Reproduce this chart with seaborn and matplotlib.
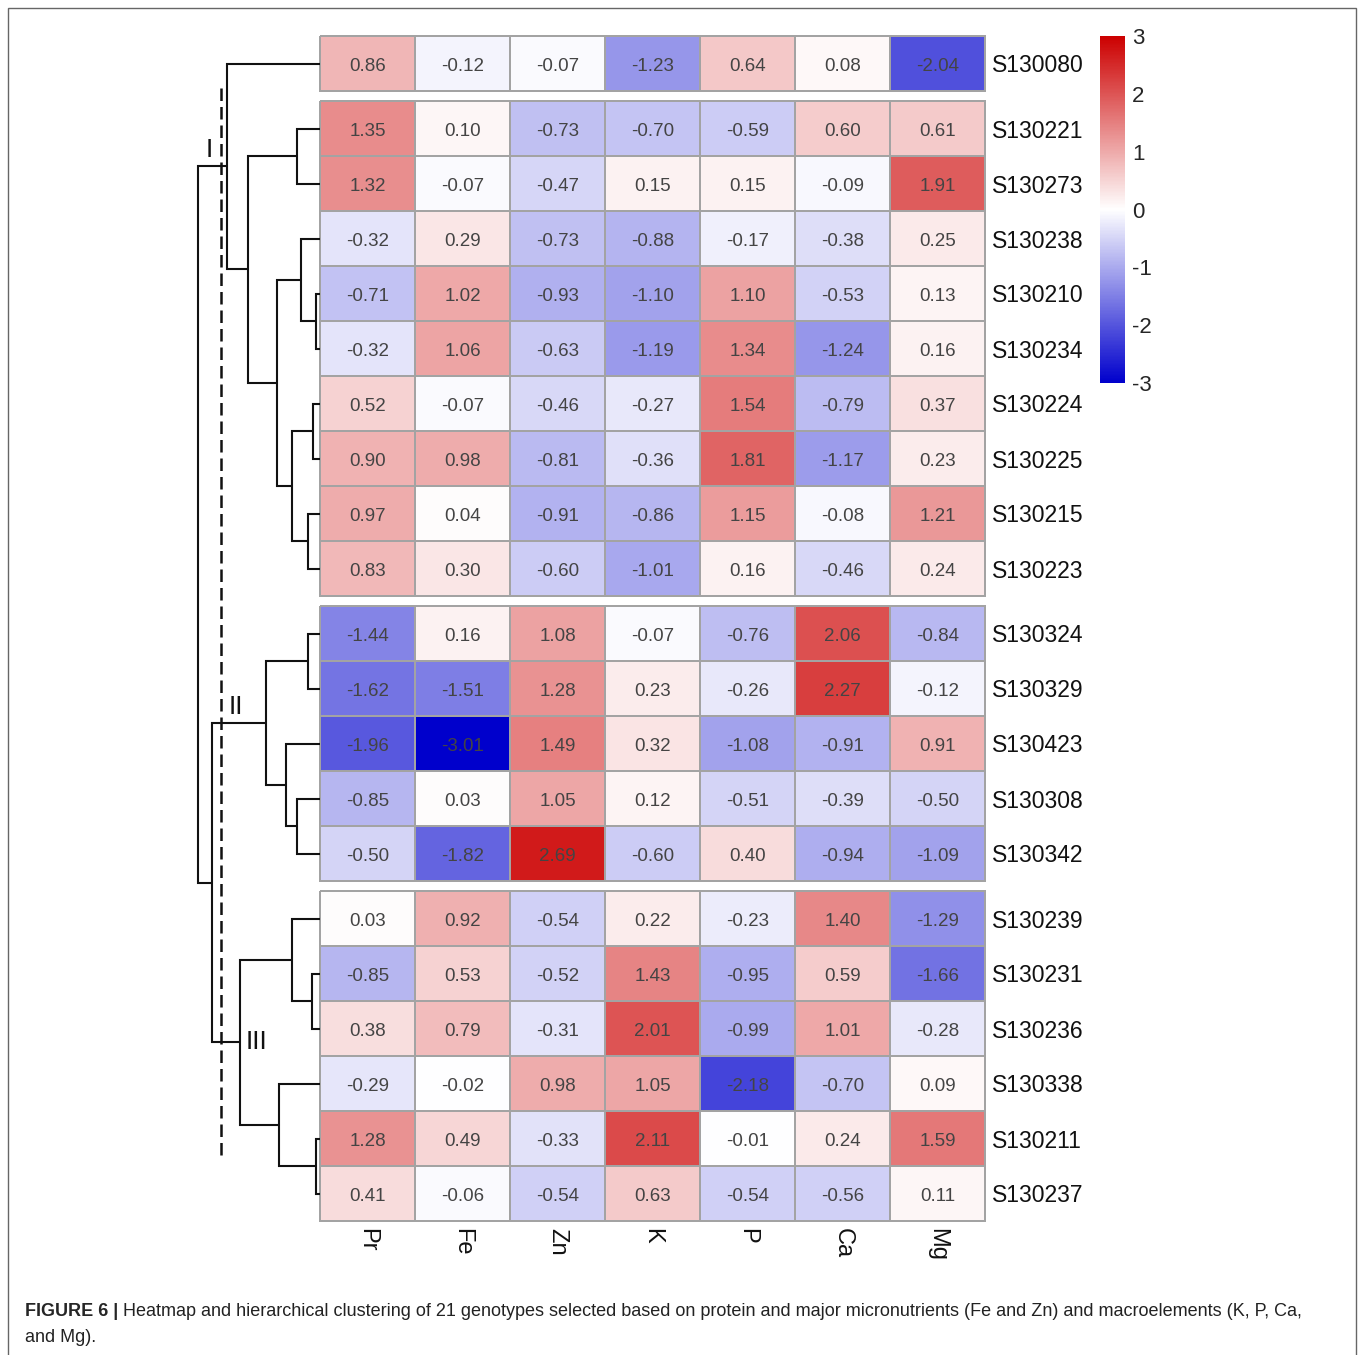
import numpy as np
import pandas as pd
import seaborn as sns
import matplotlib
matplotlib.use("Agg")
import matplotlib.pyplot as plt
from matplotlib.colors import LinearSegmentedColormap
from matplotlib.patches import Rectangle

elements = ["Pr", "Fe", "Zn", "K", "P", "Ca", "Mg"]
genotypes = ["S130080",
             "S130221", "S130273", "S130238", "S130210", "S130234",
             "S130224", "S130225", "S130215", "S130223",
             "S130324", "S130329", "S130423", "S130308", "S130342",
             "S130239", "S130231", "S130236", "S130338", "S130211", "S130237"]

values = np.array([
    [0.86, -0.12, -0.07, -1.23, 0.64, 0.08, -2.04],
    [1.35, 0.10, -0.73, -0.70, -0.59, 0.60, 0.61],
    [1.32, -0.07, -0.47, 0.15, 0.15, -0.09, 1.91],
    [-0.32, 0.29, -0.73, -0.88, -0.17, -0.38, 0.25],
    [-0.71, 1.02, -0.93, -1.10, 1.10, -0.53, 0.13],
    [-0.32, 1.06, -0.63, -1.19, 1.34, -1.24, 0.16],
    [0.52, -0.07, -0.46, -0.27, 1.54, -0.79, 0.37],
    [0.90, 0.98, -0.81, -0.36, 1.81, -1.17, 0.23],
    [0.97, 0.04, -0.91, -0.86, 1.15, -0.08, 1.21],
    [0.83, 0.30, -0.60, -1.01, 0.16, -0.46, 0.24],
    [-1.44, 0.16, 1.08, -0.07, -0.76, 2.06, -0.84],
    [-1.62, -1.51, 1.28, 0.23, -0.26, 2.27, -0.12],
    [-1.96, -3.01, 1.49, 0.32, -1.08, -0.91, 0.91],
    [-0.85, 0.03, 1.05, 0.12, -0.51, -0.39, -0.50],
    [-0.50, -1.82, 2.69, -0.60, 0.40, -0.94, -1.09],
    [0.03, 0.92, -0.54, 0.22, -0.23, 1.40, -1.29],
    [-0.85, 0.53, -0.52, 1.43, -0.95, 0.59, -1.66],
    [0.38, 0.79, -0.31, 2.01, -0.99, 1.01, -0.28],
    [-0.29, -0.02, 0.98, 1.05, -2.18, -0.70, 0.09],
    [1.28, 0.49, -0.33, 2.11, -0.01, 0.24, 1.59],
    [0.41, -0.06, -0.54, 0.63, -0.54, -0.56, 0.11],
])

# rows in each block of the split heatmap
block_sizes = [1, 9, 5, 6]

# row dendrogram: (left node, right node, height); leaves 0-20, merges numbered from 21
merges = [
    (4, 5, 4), (3, 21, 19), (1, 2, 23), (6, 7, 7), (8, 9, 12),
    (24, 25, 28), (22, 26, 43), (23, 27, 72), (0, 28, 93),
    (10, 11, 12), (13, 14, 23), (12, 31, 34), (30, 32, 54),
    (16, 17, 8), (15, 34, 28), (19, 20, 4), (18, 36, 41), (35, 37, 80),
    (33, 38, 108), (29, 39, 122),
]
cut_height = 99
# label, node, height, vertical alignment
cluster_marks = [("I", 29, 111, "bottom"), ("II", 33, 84, "bottom"), ("III", 38, 63, "center")]

caption_bold = "FIGURE 6 |"
caption_rest = ("Heatmap and hierarchical clustering of 21 genotypes selected based on protein and "
                "major micronutrients (Fe and Zn) and macroelements (K, P, Ca,")
caption_line2 = "and Mg)."

sns.set_style("white")
plt.rcParams["font.family"] = ["Liberation Sans", "DejaVu Sans"]
plt.rcParams["axes.unicode_minus"] = False

df = pd.DataFrame(values, index=genotypes, columns=elements)
cmap = LinearSegmentedColormap.from_list("bwr_ph", ["#0000CC", "#FFFFFF", "#CC0000"])

W, H = 1360, 1355
fig = plt.figure(figsize=(W / 100, H / 100), dpi=100)


def rect(x0, y0, x1, y1):
    return [x0 / W, 1 - y1 / H, (x1 - x0) / W, (y1 - y0) / H]


hm_left, hm_right, top, row_h, gap = 320, 985, 36, 55, 10
cax = fig.add_axes(rect(1100, 36, 1125, 383))

leaf_y = []
y = top
start = 0
for gi, n in enumerate(block_sizes):
    y0, y1 = y, y + n * row_h
    ax = fig.add_axes(rect(hm_left, y0, hm_right, y1))
    last = gi == len(block_sizes) - 1
    sns.heatmap(df.iloc[start:start + n], ax=ax, cmap=cmap, vmin=-3, vmax=3,
                annot=True, fmt=".2f", annot_kws={"color": "#444444", "fontsize": 13.5},
                linewidths=1.3, linecolor="#a3a3a3",
                cbar=(gi == 0), cbar_ax=cax if gi == 0 else None,
                xticklabels=elements if last else False, yticklabels=True)
    ax.collections[0].set_clip_on(False)
    for txt in ax.texts:
        tx, ty = txt.get_position()
        txt.set_position((tx, ty + 0.05))
    ax.yaxis.tick_right()
    ax.tick_params(axis="y", length=0, pad=5, labelsize=16.5)
    plt.setp(ax.get_yticklabels(), rotation=0, color="#111111")
    ax.set_ylabel("")
    if last:
        ax.tick_params(axis="x", length=0, pad=5, labelsize=17)
        plt.setp(ax.get_xticklabels(), rotation=270, color="#111111")
    leaf_y.extend(y0 + (np.arange(n) + 0.5) * row_h)
    start += n
    y = y1 + gap

cbar = fig.axes[1].collections[0].colorbar
cbar.set_ticks(range(-3, 4))
cbar.outline.set_visible(False)
cbar.ax.tick_params(length=0, labelsize=16, pad=5)

# dendrogram
ax_d = fig.add_axes(rect(185, top, hm_left, 1220))
ax_d.set_xlim(135, 0)
ax_d.set_ylim(1220, top)
ax_d.axis("off")
node_y = list(leaf_y)
node_h = [0] * len(leaf_y)
for l, r, h in merges:
    ax_d.plot([node_h[l], h, h, node_h[r]], [node_y[l], node_y[l], node_y[r], node_y[r]],
              color="#111111", lw=1.5, solid_joinstyle="miter")
    node_y.append((node_y[l] + node_y[r]) / 2)
    node_h.append(h)

ax_d.plot([cut_height, cut_height], [88, 1158], color="#111111", lw=1.8, ls=(0, (5, 2.4)))
for lab, node, hx, va in cluster_marks:
    ax_d.text(hx, node_y[node] - (4 if va == "bottom" else 0), lab, ha="center", va=va,
              fontsize=19, color="#111111")

# caption
t = fig.text(25 / W, 1 - 1312 / H, caption_bold, fontsize=13, weight="bold", va="center")
fig.canvas.draw()
bb = t.get_window_extent()
fig.text((bb.x1 + 5) / W, 1 - 1312 / H, caption_rest, fontsize=13, va="center", color="#222222")
fig.text(25 / W, 1 - 1338 / H, caption_line2, fontsize=13, va="center", color="#222222")

fig.patches.append(Rectangle((8 / W, -0.02), (1356 - 8) / W, 1 - 8 / H + 0.02,
                             transform=fig.transFigure, fill=False, edgecolor="#666666", lw=1))

fig.savefig("out.png", dpi=100)
